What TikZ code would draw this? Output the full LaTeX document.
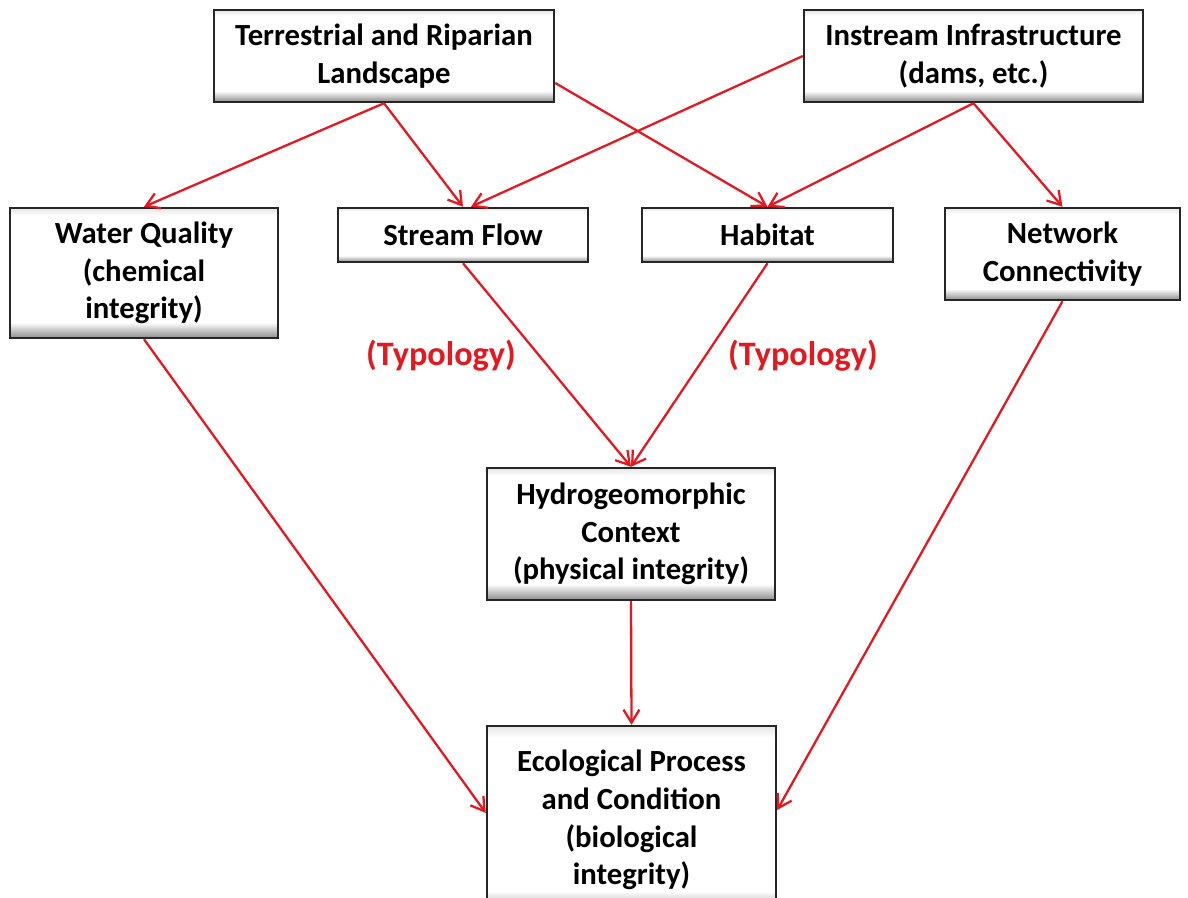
\documentclass[tikz,border=0pt]{standalone}
\usepackage{fontspec}
\setmainfont{Carlito}
\usepackage{tikz}
\usetikzlibrary{arrows.meta}
\definecolor{linkred}{RGB}{228,24,30}
\pgfdeclareverticalshading{boxshade}{100bp}{color(0bp)=(black!45); color(25bp)=(black!45);
  color(31bp)=(white); color(72bp)=(white); color(75bp)=(black!10); color(100bp)=(black!10)}
\tikzset{
  box/.style={draw=black!85, line width=1.4pt, shading=boxshade, align=center, inner sep=2pt,
    font=\fontsize{17.5}{21.5}\selectfont\bfseries},
  link/.style={->, draw=linkred, line width=1.3pt},
  typo/.style={text=linkred, font=\fontsize{19.5}{23}\selectfont\bfseries}
}
\begin{document}
\begin{tikzpicture}[x=0.02cm,y=-0.02cm,>={Straight Barb[length=2.6mm,width=3.2mm]}]
  \useasboundingbox (0,0) rectangle (1188,897);
  % sources
  \node[box, minimum width=6.8cm,  minimum height=1.84cm] (terr)  at (384,56)    {Terrestrial and Riparian\\Landscape};
  \node[box, minimum width=6.78cm, minimum height=1.84cm] (instr) at (973.5,56)  {Instream Infrastructure\\(dams, etc.)};
  % middle row
  \node[box, minimum width=5.36cm, minimum height=2.6cm]  (water) at (144,273)   {Water Quality\\(chemical\\integrity)};
  \node[box, minimum width=5.0cm,  minimum height=1.08cm] (flow)  at (463,235)   {Stream Flow};
  \node[box, minimum width=5.02cm, minimum height=1.08cm] (hab)   at (767.5,235) {Habitat};
  \node[box, minimum width=4.7cm,  minimum height=1.84cm] (net)   at (1062.5,254) {Network\\Connectivity};
  % lower
  \node[box, minimum width=5.76cm, minimum height=2.64cm] (hydro) at (631,534)   {Hydrogeomorphic\\Context\\(physical integrity)};
  \node[box, minimum width=5.78cm, minimum height=3.76cm] (eco)   at (631.5,820) {Ecological Process\\and Condition\\(biological\\integrity)};

  \node[typo] (typl) at (441,356) {(Typology)};
  \node[typo] (typr) at (803,356) {(Typology)};

  \draw[link] (terr.south) -- (water.north);
  \draw[link] (terr.south) -- (flow.north);
  \draw[link] ([yshift=-0.54cm]terr.east) -- (hab.north);
  \draw[link] (instr.west) -- ([xshift=0.16cm]flow.north);
  \draw[link] (instr.south) -- (hab.north);
  \draw[link] (instr.south) -- (net.north);
  \draw[link] (flow.south) -- (hydro.north);
  \draw[link] (hab.south) -- (hydro.north);
  \draw[link] (water.south) -- ([yshift=0.14cm]eco.west);
  \draw[link] (hydro.south) -- (eco.north);
  \draw[link] (net.south) -- ([yshift=0.2cm]eco.east);
\end{tikzpicture}
\end{document}
